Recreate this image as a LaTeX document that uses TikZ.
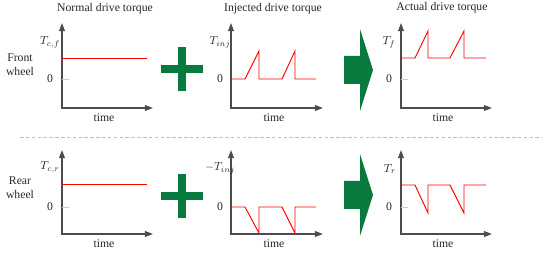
\documentclass[tikz,border=0pt]{standalone}
\usepackage{fontspec}
\setmainfont{Liberation Serif}
\usetikzlibrary{arrows.meta, positioning}
\definecolor{signgreen}{RGB}{8,122,62}

\begin{document}
\begin{tikzpicture}[x=0.03cm, y=-0.03cm,
    axis/.style={draw=black!70, line width=1.2pt, {Triangle[length=7pt, width=5pt]}-{Triangle[length=7pt, width=5pt]}},
    signal/.style={draw=red, line width=0.8pt},
    zerotick/.style={draw=black!20, line width=0.7pt},
    lbl/.style={font=\fontsize{10}{12}\selectfont, inner sep=1pt, text=black!85},
    sign/.style={fill=signgreen, draw=none}]

    \useasboundingbox (0,0) rectangle (550,254);

    % titles
    \node [lbl] (normaltitle) at (105,9) {Normal drive torque};
    \node [lbl] (injtitle) at (273,9) {Injected drive torque};
    \node [lbl] (actualtitle) at (442,8) {Actual drive torque};

    % wheel names
    \node [lbl, align=center] (front) at (20,65) {Front\\wheel};
    \node [lbl, align=center] (rear) at (20,188) {Rear\\wheel};

    % front wheel axes
    \coordinate (fy1) at (62,23);  \coordinate (fo1) at (62,108);  \coordinate (fx1) at (153,108);
    \coordinate (fy2) at (231,23); \coordinate (fo2) at (231,108); \coordinate (fx2) at (323,108);
    \coordinate (fy3) at (401,23); \coordinate (fo3) at (401,108); \coordinate (fx3) at (492,108);
    \draw [axis] (fy1) -- (fo1) -- (fx1);
    \draw [axis] (fy2) -- (fo2) -- (fx2);
    \draw [axis] (fy3) -- (fo3) -- (fx3);

    % rear wheel axes
    \coordinate (ry1) at (62,150);  \coordinate (ro1) at (62,234);  \coordinate (rx1) at (153,234);
    \coordinate (ry2) at (231,150); \coordinate (ro2) at (231,234); \coordinate (rx2) at (323,234);
    \coordinate (ry3) at (401,150); \coordinate (ro3) at (401,234); \coordinate (rx3) at (492,234);
    \draw [axis] (ry1) -- (ro1) -- (rx1);
    \draw [axis] (ry2) -- (ro2) -- (rx2);
    \draw [axis] (ry3) -- (ro3) -- (rx3);

    % zero ticks
    \draw [zerotick] (62,79) -- (69,79);
    \draw [zerotick] (401,79) -- (408,79);
    \draw [zerotick] (62,207) -- (69,207);
    \draw [zerotick] (401,207) -- (408,207);

    % front wheel signals
    \draw [signal] (62,58) -- (147,58);
    \draw [signal] (232,79) -- (245,79) -- (259,51) -- (259,79) -- (282,79) -- (295,51) -- (295,79) -- (316,79);
    \draw [signal] (402,58) -- (415,58) -- (428,31) -- (428,58) -- (450,58) -- (464,31) -- (464,58) -- (486,58);

    % rear wheel signals
    \draw [signal] (62,184) -- (147,184);
    \draw [signal] (232,207) -- (245,207) -- (259,233) -- (259,207) -- (282,207) -- (295,233) -- (295,207) -- (316,207);
    \draw [signal] (402,185) -- (415,185) -- (428,213) -- (428,185) -- (450,185) -- (464,213) -- (464,185) -- (486,185);

    % axis labels
    \node [lbl] (tcf) at (50,42) {$T_{c,f}$};
    \node [lbl] (tinjf) at (220,42) {$T_{inj}$};
    \node [lbl] (tf) at (389,42) {$T_f$};
    \node [lbl] (tcr) at (50,167) {$T_{c,r}$};
    \node [lbl] (tinjr) at (220,168) {$-T_{inj}$};
    \node [lbl] (tr) at (390,169) {$T_r$};

    \node [lbl] (zf1) at (50,79) {0};
    \node [lbl] (zf2) at (220,79) {0};
    \node [lbl] (zf3) at (389,79) {0};
    \node [lbl] (zr1) at (50,207) {0};
    \node [lbl] (zr2) at (220,207) {0};
    \node [lbl] (zr3) at (389,207) {0};

    \node [lbl] (timef1) at (104,118) {time};
    \node [lbl] (timef2) at (274,118) {time};
    \node [lbl] (timef3) at (443,118) {time};
    \node [lbl] (timer1) at (104,244) {time};
    \node [lbl] (timer2) at (274,244) {time};
    \node [lbl] (timer3) at (443,244) {time};

    % plus signs
    \fill [sign] (161,65) rectangle (203,73);
    \fill [sign] (178,47) rectangle (186,91);
    \fill [sign] (161,192) rectangle (203,200);
    \fill [sign] (178,174) rectangle (186,218);

    % big arrows
    \fill [sign] (344,56) -- (360,56) -- (360,29) -- (373,70) -- (360,111) -- (360,84) -- (344,84) -- cycle;
    \fill [sign] (344,181) -- (360,181) -- (360,154) -- (373,195) -- (360,236) -- (360,209) -- (344,209) -- cycle;

    % separator
    \draw [black!25, dash pattern=on 3pt off 2pt] (20,137) -- (542,137);
\end{tikzpicture}
\end{document}
